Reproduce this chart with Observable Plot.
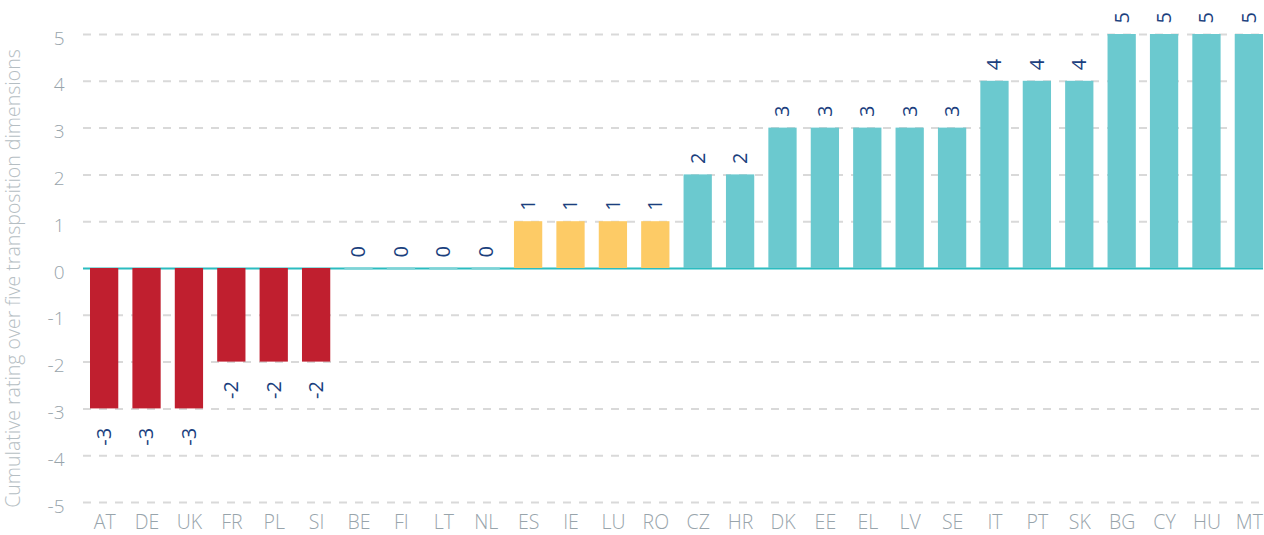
<!DOCTYPE html>
<html><head><meta charset="utf-8">
<script src="https://cdn.jsdelivr.net/npm/d3@7"></script>
<script src="https://cdn.jsdelivr.net/npm/@observablehq/plot@0.6"></script>
<style>body{margin:0;background:#fff;}</style>
</head><body><div id="chart"></div>
<script>
const countries = ["AT","DE","UK","FR","PL","SI","BE","FI","LT","NL","ES","IE","LU","RO","CZ","HR","DK","EE","EL","LV","SE","IT","PT","SK","BG","CY","HU","MT"];
const ratings = [-3,-3,-3,-2,-2,-2,0,0,0,0,1,1,1,1,2,2,3,3,3,3,3,4,4,4,5,5,5,5];
const yTicks = [-5,-4,-3,-2,-1,0,1,2,3,4,5];
const yLabel = "Cumulative rating over five transposition dimensions";

const groupOf = v => v < 0 ? "neg" : v === 0 ? "zero" : v === 1 ? "low" : "high";
const data = countries.map((c, i) => ({country: c, rating: ratings[i], group: groupOf(ratings[i])}));

const chart = Plot.plot({
  width: 1264, height: 535,
  marginLeft: 83, marginRight: 1, marginTop: 34, marginBottom: 33,
  style: {fontFamily: "'Open Sans', sans-serif", background: "#fff"},
  x: {domain: countries, paddingInner: 0.333, paddingOuter: 0.0825, align: 1, round: false, label: null},
  y: {domain: [-5, 5], label: null},
  color: {domain: ["neg", "zero", "low", "high"], range: ["#c01f2f", "#7fd3d6", "#fdcb66", "#6bc9cf"]},
  marks: [
    Plot.gridY(yTicks.filter(d => d !== 0), {stroke: "#d9d9d9", strokeOpacity: 1, strokeWidth: 2, strokeDasharray: "8,8"}),
    Plot.ruleY([0], {stroke: "#2bbcc0", strokeWidth: 2}),
    Plot.barY(data.filter(d => d.rating !== 0), {x: "country", y: "rating", fill: "group"}),
    Plot.tickY(data.filter(d => d.rating === 0), {x: "country", y: "rating", stroke: "group", strokeWidth: 2}),
    Plot.text(data.filter(d => d.rating >= 0), {x: "country", y: "rating", text: d => String(d.rating), rotate: -90, textAnchor: "start", dy: -11, fill: "#1b3f7e", fontSize: 20}),
    Plot.text(data.filter(d => d.rating < 0), {x: "country", y: "rating", text: d => String(d.rating), rotate: -90, textAnchor: "end", dy: 19, fill: "#1b3f7e", fontSize: 20}),
    Plot.axisY(yTicks, {tickSize: 0, tickPadding: 19, tickFormat: d => String(d), color: "#98a4ab", fontSize: 19, fontWeight: 300, dy: 4, label: null}),
    Plot.axisX({tickSize: 0, tickPadding: 13, color: "#98a4ab", fontSize: 19.5, fontWeight: 300, label: null}),
    Plot.text([yLabel], {text: d => d, frameAnchor: "left", rotate: -90, dx: -70, dy: 10, fill: "#b5bec3", fontSize: 19.5, fontWeight: 300, textAnchor: "middle"})
  ]
});
document.getElementById("chart").appendChild(chart);
</script>
</body></html>
